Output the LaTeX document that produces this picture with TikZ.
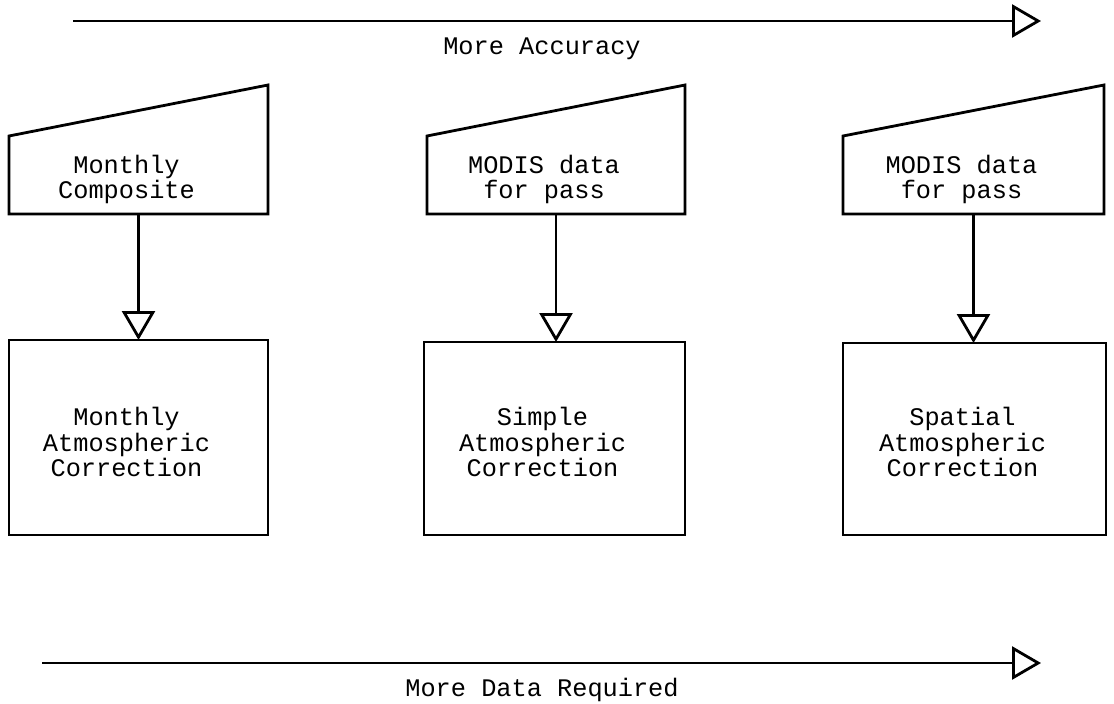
\documentclass[tikz,border=0pt]{standalone}
\usepackage{fontspec}
\setmonofont{Liberation Mono}
\usetikzlibrary{arrows.meta}
\begin{document}
\begin{tikzpicture}[x=1pt, y=-1pt,
  every node/.style={font=\ttfamily\fontsize{25.3}{25.5}\selectfont, inner sep=0pt, outer sep=0pt},
  shape frame/.style={line width=2.8pt, line join=miter},
  box/.style={draw, line width=2.8pt, rectangle, minimum width=#1},
  srcbody/.style={rectangle, minimum width=#1, minimum height=78pt},
  label text/.style={align=center},
  flow/.style={line width=2.6pt, -{Triangle[open, length=29pt, width=33pt, line width=2.8pt]}}]
  \useasboundingbox (0,0) rectangle (1114,704);

  % axis arrows
  \coordinate (a0) at (73,21);
  \coordinate (a1) at (1041,21);
  \draw[flow] (a0) -- (a1);
  \node (acc) at (542,48.5) {More Accuracy};

  \coordinate (b0) at (42,663);
  \coordinate (b1) at (1041,663);
  \draw[flow] (b0) -- (b1);
  \node (req) at (542,689.5) {More Data Required};

  % manual-input shapes (sloped top edge)
  \node[srcbody=259pt] (s1) at (138.5,175) {};
  \node[srcbody=258pt] (s2) at (556,175) {};
  \node[srcbody=261pt] (s3) at (973.5,175) {};
  \foreach \s in {s1,s2,s3}{
    \draw[shape frame] (\s.north west) -- (\s.south west) -- (\s.south east)
      -- ([yshift=51pt]\s.north east) -- cycle;
  }
  \node[label text] (t1) at (126.5,179.5) {Monthly\\Composite};
  \node[label text] (t2) at (544,179.5) {MODIS data\\for pass};
  \node[label text] (t3) at (961.5,179.5) {MODIS data\\for pass};

  % correction steps
  \node[box=259pt, minimum height=195pt] (c1) at (138.5,437.5) {};
  \node[box=261pt, minimum height=193pt] (c2) at (554.5,438.5) {};
  \node[box=263pt, minimum height=192pt] (c3) at (974.5,439) {};
  \node[label text] (u1) at (126.5,442) {Monthly\\Atmospheric\\Correction};
  \node[label text] (u2) at (542.5,442) {Simple\\Atmospheric\\Correction};
  \node[label text] (u3) at (962.5,442) {Spatial\\Atmospheric\\Correction};

  % connectors
  \draw[flow] (s1.south) -- (s1.south |- c1.north);
  \draw[flow] (s2.south) -- (s2.south |- c2.north);
  \draw[flow] (s3.south) -- (s3.south |- c3.north);
\end{tikzpicture}
\end{document}
